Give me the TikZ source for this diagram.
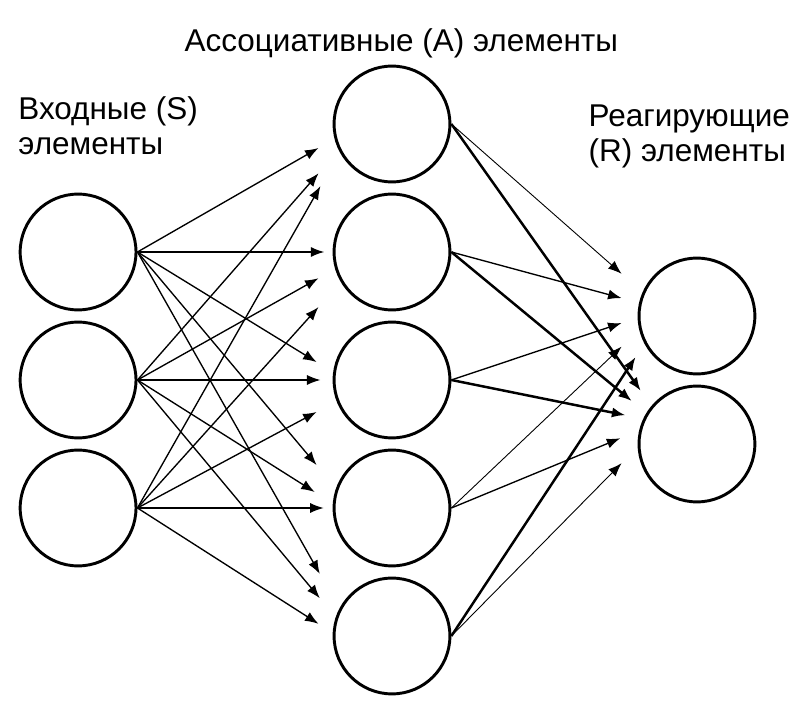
\documentclass[tikz,border=0pt]{standalone}
\usepackage{fontspec}
\setmainfont{Liberation Sans}
\usetikzlibrary{arrows.meta}

\tikzset{
    elem/.style={circle, draw, line width=1.3pt, minimum size=1.81cm, inner sep=0pt},
    link/.style={-{Latex[length=6pt,width=4.5pt]}, line width=0.6pt},
    weak/.style={link, line width=0.4pt},
    strong/.style={link, line width=1.1pt},
    caption/.style={font=\fontsize{14}{15.5}\selectfont, inner sep=0pt}
}

\begin{document}
\begin{tikzpicture}
        \useasboundingbox (0, -5.219) rectangle (12.344, 5.9375);

        \node[elem] (S1) at (1.22, 2) {};
        \node[elem] (S2) at (1.22, 0) {};
        \node[elem] (S3) at (1.22, -2) {};

        \node[elem] (A1) at (6.125, 4) {};
        \node[elem] (A2) at (6.125, 2) {};
        \node[elem] (A3) at (6.125, 0) {};
        \node[elem] (A4) at (6.125, -2) {};
        \node[elem] (A5) at (6.125, -4) {};

        \node[elem] (R1) at (10.89, 1) {};
        \node[elem] (R2) at (10.89, -1) {};

        \node[caption, anchor=base] (atitle) at (6.27, 5.13) {Ассоциативные (А) элементы};
        \node[caption, anchor=base west, align=left] (stitle) at (0.28, 3.52) {Входные (S)\\элементы};
        \node[caption, anchor=base west, align=left] (rtitle) at (9.19, 3.42) {Реагирующие\\(R) элементы};

        \draw[link] (S1.east) -- ([xshift=-0.22cm, yshift=-0.375cm]A1.west);
        \draw[link] (S2.east) -- ([xshift=-0.22cm, yshift=-0.77cm]A1.west);
        \draw[link] (S3.east) -- ([xshift=-0.19cm, yshift=-0.97cm]A1.west);

        \draw[link] (S1.east) -- ([xshift=-0.13cm]A2.west);
        \draw[link] (S2.east) -- ([xshift=-0.22cm, yshift=-0.41cm]A2.west);
        \draw[link] (S3.east) -- ([xshift=-0.22cm, yshift=-0.86cm]A2.west);

        \draw[link] (S1.east) -- ([xshift=-0.25cm, yshift=0.28cm]A3.west);
        \draw[link] (S2.east) -- ([xshift=-0.19cm]A3.west);
        \draw[link] (S3.east) -- ([xshift=-0.25cm, yshift=-0.5cm]A3.west);

        \draw[link] (S1.east) -- ([xshift=-0.25cm, yshift=0.67cm]A4.west);
        \draw[link] (S2.east) -- ([xshift=-0.28cm, yshift=0.25cm]A4.west);
        \draw[link] (S3.east) -- ([xshift=-0.14cm]A4.west);

        \draw[link] (S1.east) -- ([xshift=-0.2cm, yshift=0.97cm]A5.west);
        \draw[link] (S2.east) -- ([xshift=-0.2cm, yshift=0.59cm]A5.west);
        \draw[link] (S3.east) -- ([xshift=-0.22cm, yshift=0.19cm]A5.west);

        \draw[weak] (A1.east) -- ([xshift=-0.25cm, yshift=0.66cm]R1.west);
        \draw[strong] (A1.east) -- ([xshift=0.05cm, yshift=0.83cm]R2.west);
        \draw[link] (A2.east) -- ([xshift=-0.25cm, yshift=0.28cm]R1.west);
        \draw[strong] (A2.east) -- ([xshift=-0.09cm, yshift=0.67cm]R2.west);
        \draw[link] (A3.east) -- ([xshift=-0.25cm, yshift=-0.11cm]R1.west);
        \draw[strong] (A3.east) -- ([xshift=-0.19cm, yshift=0.45cm]R2.west);
        \draw[weak] (A4.east) -- ([xshift=-0.25cm, yshift=-0.48cm]R1.west);
        \draw[link] (A4.east) -- ([xshift=-0.27cm, yshift=0.09cm]R2.west);
        \draw[strong] (A5.east) -- ([xshift=-0.03cm, yshift=-0.64cm]R1.west);
        \draw[weak] (A5.east) -- ([xshift=-0.25cm, yshift=-0.3cm]R2.west);

    \end{tikzpicture}
\end{document}
